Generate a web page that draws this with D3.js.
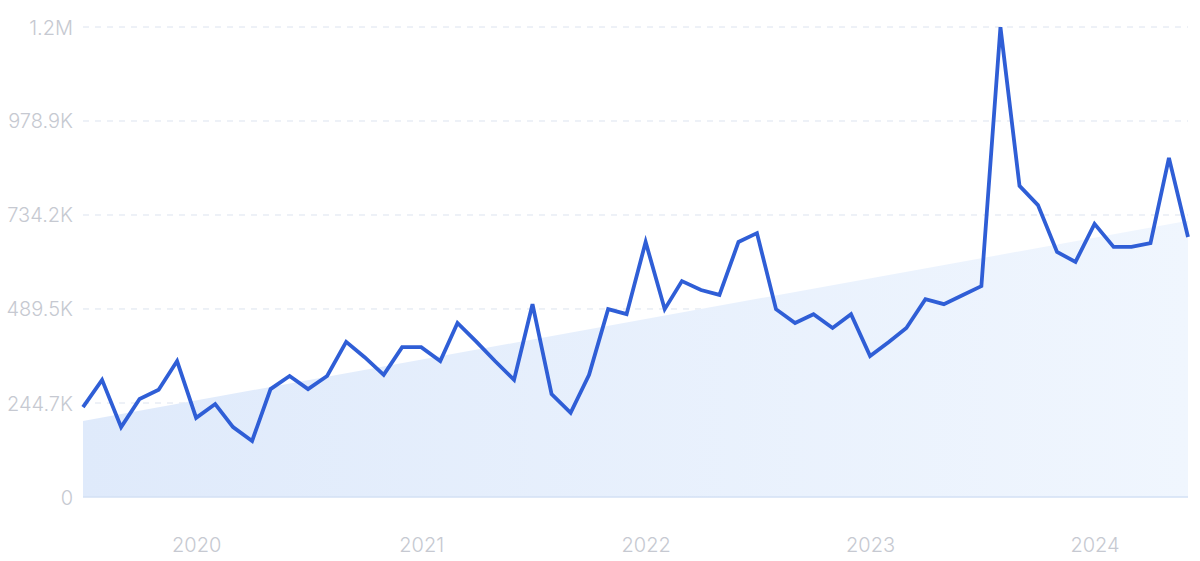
<!DOCTYPE html>
<html>
<head>
<meta charset="utf-8">
<script src="https://cdn.jsdelivr.net/npm/d3@7"></script>
<style>
  html, body { margin: 0; padding: 0; background: #ffffff; }
  svg { display: block; font-family: Inter, "Noto Sans", sans-serif; }
</style>
</head>
<body>
<svg id="chart" width="1200" height="561"></svg>
<script>
// ---- data ----
const months = [];
(function () {
  for (let i = 0; i < 60; i++) months.push(new Date(2019, 6 + i, 1));
})();
const values = [
  234000, 305000, 182000, 255000, 279000, 354000, 206000, 242000, 182000, 146000,
  281000, 315000, 281000, 315000, 404000, 364000, 318000, 390000, 390000, 354000,
  453000, 404000, 354000, 305000, 502000, 268000, 219000, 318000, 489000, 476000,
  664000, 489000, 562000, 539000, 526000, 664000, 687000, 489000, 453000, 476000,
  440000, 476000, 367000, 404000, 440000, 515000, 502000, 526000, 549000, 1223000,
  810000, 760000, 638000, 612000, 711000, 651000, 651000, 661000, 883000, 677000
];
const trendValues = [198000, 719000];
const yTickValues = [0, 244700, 489500, 734200, 978900, 1223600];
const yTickLabels = ["0", "244.7K", "489.5K", "734.2K", "978.9K", "1.2M"];
const xTickYears = [2020, 2021, 2022, 2023, 2024];

(function draw() {
  const svg = d3.select("#chart");
  const mLeft = 83, mRight = 1188, mTop = 27, mBottom = 497;
  const labelFont = "Inter, 'Noto Sans', sans-serif";

  const x = d3.scaleTime()
    .domain([months[0], months[months.length - 1]])
    .range([mLeft, mRight]);
  const y = d3.scaleLinear()
    .domain([0, yTickValues[yTickValues.length - 1]])
    .range([mBottom, mTop]);

  const defs = svg.append("defs");
  const grad = defs.append("linearGradient")
    .attr("id", "trendGrad")
    .attr("x1", "0%").attr("y1", "0%").attr("x2", "100%").attr("y2", "0%");
  grad.append("stop").attr("offset", "0%").attr("stop-color", "#dfeafb");
  grad.append("stop").attr("offset", "100%").attr("stop-color", "#f0f6fe");

  // gridlines
  svg.append("g")
    .selectAll("line")
    .data(yTickValues.slice(1))
    .join("line")
    .attr("x1", mLeft).attr("x2", mRight)
    .attr("y1", d => y(d)).attr("y2", d => y(d))
    .attr("stroke", "#dce3ef")
    .attr("stroke-width", 1)
    .attr("stroke-dasharray", "6,6");

  // trend area
  const trendData = [
    { date: months[0], v: trendValues[0] },
    { date: months[months.length - 1], v: trendValues[1] }
  ];
  svg.append("path")
    .datum(trendData)
    .attr("fill", "url(#trendGrad)")
    .attr("d", d3.area().x(d => x(d.date)).y0(y(0)).y1(d => y(d.v)));

  // baseline
  svg.append("line")
    .attr("x1", mLeft).attr("x2", mRight)
    .attr("y1", y(0)).attr("y2", y(0))
    .attr("stroke", "#d3e1f4")
    .attr("stroke-width", 1.5);

  // y axis labels
  const yAxis = d3.axisLeft(y)
    .tickValues(yTickValues)
    .tickFormat((d, i) => yTickLabels[i])
    .tickSize(0)
    .tickPadding(10);
  const gy = svg.append("g").attr("transform", `translate(${mLeft},0)`).call(yAxis);
  gy.attr("font-family", labelFont).attr("font-size", 20).attr("font-weight", 300);
  gy.select(".domain").remove();
  gy.selectAll("text")
    .attr("fill", "#c6c9d1")
    .attr("dy", "0.35em");

  // x axis labels
  const xAxis = d3.axisBottom(x)
    .tickValues(xTickYears.map(yr => new Date(yr, 0, 1)))
    .tickFormat(d3.timeFormat("%Y"))
    .tickSize(0)
    .tickPadding(0);
  const gx = svg.append("g").attr("transform", `translate(0,${mBottom})`).call(xAxis);
  gx.attr("font-family", labelFont).attr("font-size", 20).attr("font-weight", 300);
  gx.select(".domain").remove();
  gx.selectAll("text")
    .attr("fill", "#c6c9d1")
    .attr("y", 55)
    .attr("dy", "0");

  // main line
  const series = months.map((m, i) => ({ date: m, v: values[i] }));
  svg.append("path")
    .datum(series)
    .attr("fill", "none")
    .attr("stroke", "#2f5ed6")
    .attr("stroke-width", 3.8)
    .attr("stroke-linejoin", "miter")
    .attr("stroke-miterlimit", 4)
    .attr("d", d3.line().x(d => x(d.date)).y(d => y(d.v)));
})();
</script>
</body>
</html>
